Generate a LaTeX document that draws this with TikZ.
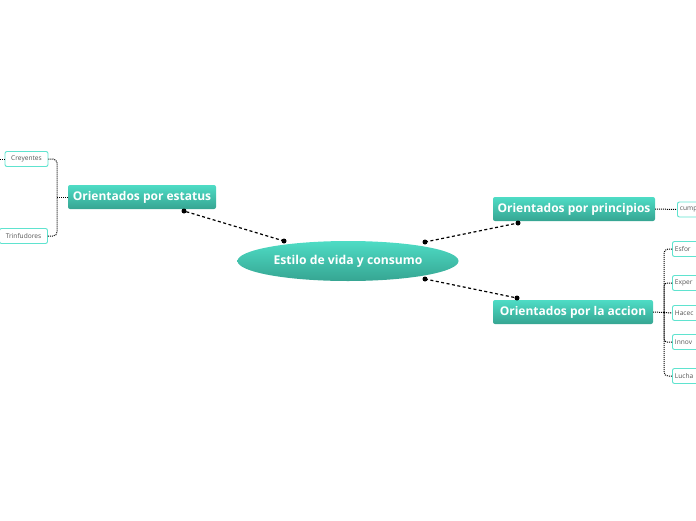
\documentclass[tikz,border=0pt]{standalone}
\usepackage{fontspec}
\setmainfont{Open Sans}
\usetikzlibrary{shapes.geometric}
\definecolor{tqtop}{HTML}{4EDCC5}
\definecolor{tqbot}{HTML}{36A592}
\definecolor{tqline}{HTML}{5FE3CF}
\definecolor{txtgray}{HTML}{555555}
\tikzset{
  mainbox/.style={rectangle, rounded corners=2pt, top color=tqtop, bottom color=tqbot, draw=none,
    text=white, font=\fontsize{12}{14}\selectfont\bfseries, inner sep=0pt, minimum height=24pt},
  rootnode/.style={ellipse, top color=tqtop, bottom color=tqbot, draw=none, text=white,
    font=\fontsize{12.2}{14}\selectfont\bfseries, inner sep=0pt, minimum width=221pt, minimum height=40pt},
  leaf/.style={rectangle, rounded corners=2pt, draw=tqline, line width=0.9pt, fill=white,
    text=txtgray, font=\fontsize{6.6}{7}\selectfont, inner sep=0pt, minimum height=15pt},
  rleaf/.style={leaf, minimum width=40pt, anchor=west, text width=36pt, inner xsep=2.5pt, align=left},
  mainlink/.style={draw=black, line width=1.2pt, dash pattern=on 3pt off 2.5pt},
  dotlink/.style={draw=black, line width=1pt, dash pattern=on 1pt off 1pt},
  enddot/.style={circle, fill=black, inner sep=0pt, minimum size=5pt}
}
\begin{document}
\begin{tikzpicture}[x=1pt,y=-1pt]
\useasboundingbox (0,0) rectangle (696,520);
\clip (0,0) rectangle (696,520);
% nodes
\node[rootnode] (root) at (348,261) {Estilo de vida y consumo};
\node[mainbox, minimum width=148pt] (est) at (142,197) {Orientados por estatus};
\node[mainbox, minimum width=162pt] (pri) at (574,209) {Orientados por principios};
\node[mainbox, minimum width=160pt] (acc) at (573,312) {Orientados por la accion};
\node[leaf, minimum width=43pt] (cre) at (26.5,159) {Creyentes};
\node[leaf, minimum width=48pt] (tri) at (23.5,236) {Trinfudores};
\node[rleaf] (cum) at (677,209.5) {cump};
\node[rleaf] (esf) at (672,249) {Esfor};
\node[rleaf] (exp) at (672,283) {Exper};
\node[rleaf] (hac) at (672,313) {Hacec};
\node[rleaf] (inn) at (672,342) {Innov};
\node[rleaf] (luc) at (672,376) {Lucha};
% connector end points
\coordinate (rL) at (284,241);
\coordinate (rTR) at (425,242);
\coordinate (rBR) at (425,279);
\coordinate (eD) at (184,211);
\coordinate (pD) at (518,223);
\coordinate (aD) at (517,298);
\coordinate (bL) at (57,197);
\coordinate (bR) at (664,312.5);
\coordinate (creOut) at (0,159);
% main links
\draw[mainlink] (rL) -- (eD);
\draw[mainlink] (rTR) -- (pD);
\draw[mainlink] (rBR) -- (aD);
\foreach \p in {rL,rTR,rBR,eD,pD,aD} \node[enddot] at (\p) {};
% left brace
\draw[dotlink] (est.west) -- (bL);
\draw[dotlink, rounded corners=4pt] (cre.east) -| (bL) |- (tri.east);
\draw[dotlink] (cre.west) -- (creOut);
% principios leaf
\draw[dotlink] (pri.east) -- (cum.west);
% accion brace
\draw[dotlink] (acc.east) -- (bR);
\draw[dotlink, rounded corners=4pt] (esf.west) -| (bR) |- (luc.west);
\draw[dotlink, rounded corners=3pt] (exp.west) -| (bR);
\draw[dotlink] (bR) -- (hac.west);
\draw[dotlink, rounded corners=3pt] (inn.west) -| (bR);
\end{tikzpicture}
\end{document}
